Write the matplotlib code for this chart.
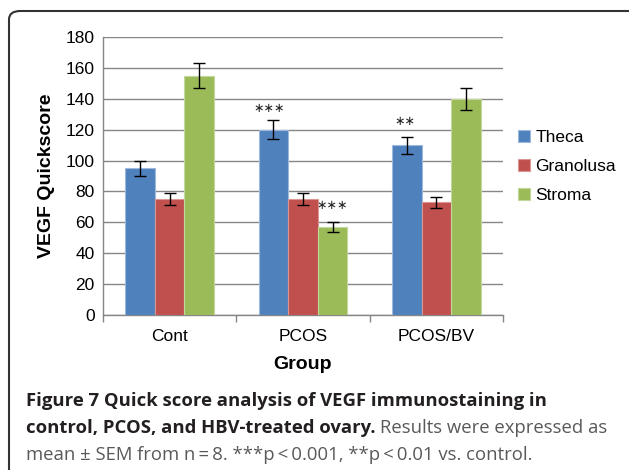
import matplotlib
matplotlib.use("Agg")
import matplotlib.pyplot as plt
from matplotlib.patches import FancyBboxPatch
import numpy as np

groups = ["Cont", "PCOS", "PCOS/BV"]
series = ["Theca", "Granolusa", "Stroma"]
theca = [95, 120, 110]
granolusa = [75, 75, 73]
stroma = [155, 57, 140]
theca_err = [5, 6, 5.5]
granolusa_err = [4, 4, 3.6]
stroma_err = [8, 3, 7]
colors = ["#4F81BD", "#C0504D", "#9BBB59"]
edges = ["#9DB9DE", "#DA9694", "#C3D69B"]
yticks = list(range(0, 181, 20))
star_group = [1, 1, 2]
star_series = [0, 2, 0]
star_text = ["\u2217\u2217\u2217", "\u2217\u2217\u2217", "\u2217\u2217"]
star_y = [134, 71, 125]

plt.rcParams['font.family'] = ['Liberation Sans', 'DejaVu Sans']

fig = plt.figure(figsize=(6.29, 4.70), dpi=100)
ax = fig.add_axes([103/629, 1-315/470, 400/629, 278/470])

x = np.arange(len(groups))
w = 0.222
vals = [theca, granolusa, stroma]
errs = [theca_err, granolusa_err, stroma_err]
for i, (v, e) in enumerate(zip(vals, errs)):
    ax.bar(x + (i-1)*w, v, width=w, color=colors[i], edgecolor=edges[i],
           linewidth=0.8, label=series[i], zorder=3,
           yerr=e, error_kw=dict(ecolor="black", elinewidth=1.0, capsize=4, capthick=1.0, zorder=4))

star_dx = [-0.035, 0.0, -0.01]
for g, s, txt, yv, dx in zip(star_group, star_series, star_text, star_y, star_dx):
    ax.text(x[g] + (s-1)*w + dx, yv, txt, ha="center", va="center", fontsize=9,
            family=["DejaVu Sans"], color="#222222", zorder=5)

ax.set_xlim(-0.5, 2.5)
ax.set_ylim(0, 180)
ax.set_yticks(yticks)
ax.set_yticklabels([str(t) for t in yticks], fontsize=12.5)
ax.tick_params(axis="y", length=0, pad=6)
ax.set_xticks(x)
ax.set_xticklabels(groups, fontsize=12.5)
ax.tick_params(axis="x", length=0, pad=10)
ax.set_xticks([-0.5, 0.5, 1.5, 2.5], minor=True)
ax.tick_params(axis="x", which="minor", length=5, color="#868686", width=1)
ax.grid(axis="y", color="#868686", linewidth=1, zorder=0)
for sp in ["top", "right"]:
    ax.spines[sp].set_visible(False)
ax.spines["left"].set_color("#868686")
ax.spines["bottom"].set_color("#868686")
ax.spines["left"].set_linewidth(1)
ax.spines["bottom"].set_linewidth(1)

ax.set_ylabel("VEGF Quickscore", fontsize=14, fontweight="bold", labelpad=8)
ax.set_xlabel("Group", fontsize=14, fontweight="bold", labelpad=8.5)

leg = ax.legend(loc="center left", bbox_to_anchor=(1.02, 0.535), frameon=False,
                fontsize=12.5, handlelength=0.7, handleheight=0.7, handletextpad=0.3,
                labelspacing=0.8, borderaxespad=0)

frame = FancyBboxPatch((9/629, -0.05), 1.2, 1 - 11/470 + 0.05,
                       boxstyle="round,pad=0,rounding_size=0.018",
                       transform=fig.transFigure, fill=False, edgecolor="#333333",
                       linewidth=1.5, clip_on=False)
fig.patches.append(frame)

cap_font = ['Open Sans', 'DejaVu Sans']
fs = 13.3
fig.text(26/629, 1-401/470, "Figure 7 Quick score analysis of VEGF immunostaining in",
         fontsize=fs, fontweight="bold", family=cap_font, color="#231F20", va="center")
t2 = fig.text(26/629, 1-428/470, "control, PCOS, and HBV-treated ovary.",
              fontsize=fs, fontweight="bold", family=cap_font, color="#231F20", va="center")
fig.canvas.draw()
bb = t2.get_window_extent()
x2 = bb.x1 / fig.bbox.width + 4/629
fig.text(x2, 1-428/470, "Results were expressed as",
         fontsize=fs, family=cap_font, color="#58595B", va="center")
fig.text(26/629, 1-455/470, "mean \u00b1 SEM from n\u2009=\u20098. ***p\u2009<\u20090.001, **p\u2009<\u20090.01 vs. control.",
         fontsize=fs, family=cap_font, color="#58595B", va="center")

fig.savefig("out.png", dpi=100)
